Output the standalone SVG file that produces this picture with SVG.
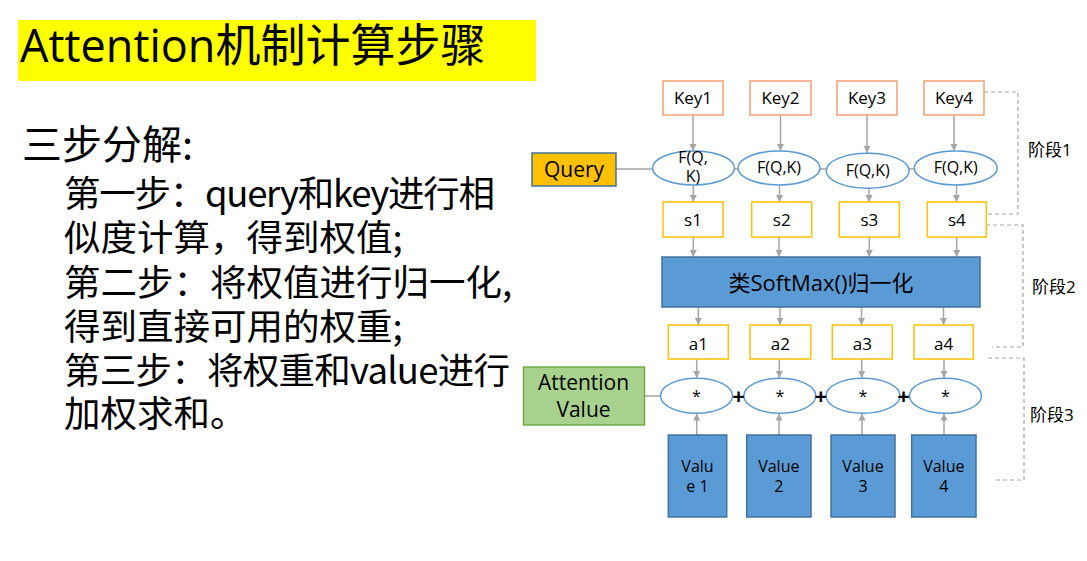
<svg xmlns="http://www.w3.org/2000/svg" width="1087" height="561" viewBox="0 0 1087 561">
<style>
.t{font-family:"Open Sans","Noto Sans CJK SC",sans-serif;fill:#000}
.c{font-family:"Noto Sans CJK SC","Open Sans",sans-serif;fill:#000}
.m{text-anchor:middle}
.key{fill:#fff;stroke:#f4a172;stroke-width:1.5}
.sa{fill:#fff;stroke:#ffc000;stroke-width:1.5}
.el{fill:#fff;stroke:#5b9bd5;stroke-width:1.5}
.blue{fill:#5b9bd5;stroke:#41719c;stroke-width:1.5}
.ln{stroke:#a5a5a5;stroke-width:1.5;fill:none}
.ar{stroke:#a5a5a5;stroke-width:1.5;fill:none;marker-end:url(#ah)}
.dash{stroke:#a5a5a5;stroke-width:1.2;fill:none;stroke-dasharray:4 3}
.f17{font-size:17px}
.f16{font-size:16px}
</style>
<defs>
<marker id="ah" markerUnits="userSpaceOnUse" markerWidth="8" markerHeight="8" refX="7" refY="4" orient="auto">
<path d="M0,0.5 L7,4 L0,7.5 z" fill="#a5a5a5"/>
</marker>
</defs>
<rect width="1087" height="561" fill="#fff"/>

<g id="title">
<rect x="18" y="20" width="518" height="61" fill="#ffff00"/>
<text class="t" x="20" y="62" font-size="45">Attention机制计算步骤</text>
</g>

<g id="body-text">
<text class="c" x="22" y="159" font-size="40">三步分解:</text>
<text class="c" x="64" y="207" font-size="36.5" textLength="431" lengthAdjust="spacing">第一步：query和key进行相</text>
<text class="c" x="64" y="251" font-size="36.5">似度计算，得到权值;</text>
<text class="c" x="64" y="296" font-size="36.5">第二步：将权值进行归一化,</text>
<text class="c" x="64" y="340" font-size="36.5">得到直接可用的权重;</text>
<text class="c" x="64" y="384" font-size="36.5" textLength="446" lengthAdjust="spacing">第三步：将权重和value进行</text>
<text class="c" x="64" y="427" font-size="36.5">加权求和。</text>
</g>

<g id="connectors">
<line class="ln" x1="616" y1="169" x2="914" y2="169"/>
<line class="ln" x1="644" y1="396" x2="661" y2="396"/>
<line class="ar" x1="693" y1="115" x2="693" y2="151"/>
<line class="ar" x1="780.5" y1="115" x2="780.5" y2="151"/>
<line class="ar" x1="867" y1="115" x2="867" y2="153"/>
<line class="ar" x1="954" y1="115" x2="954" y2="151"/>
<line class="ar" x1="693.3" y1="185" x2="693.3" y2="202"/>
<line class="ar" x1="779.5" y1="185" x2="779.5" y2="202"/>
<line class="ar" x1="869" y1="188" x2="869" y2="202"/>
<line class="ar" x1="956.5" y1="185" x2="956.5" y2="202"/>
<line class="ar" x1="693.3" y1="237" x2="693.3" y2="257"/>
<line class="ar" x1="779" y1="237" x2="779" y2="257"/>
<line class="ar" x1="869.3" y1="237" x2="869.3" y2="257"/>
<line class="ar" x1="956.7" y1="237" x2="956.7" y2="257"/>
<line class="ar" x1="698.3" y1="307" x2="698.3" y2="325"/>
<line class="ar" x1="780" y1="307" x2="780" y2="325"/>
<line class="ar" x1="861.5" y1="307" x2="861.5" y2="325"/>
<line class="ar" x1="943.5" y1="307" x2="943.5" y2="325"/>
<line class="ar" x1="696.7" y1="359" x2="696.7" y2="378"/>
<line class="ar" x1="779.3" y1="359" x2="779.3" y2="378"/>
<line class="ar" x1="861.7" y1="359" x2="861.7" y2="378"/>
<line class="ar" x1="944" y1="359" x2="944" y2="378"/>
<line class="ar" x1="696.7" y1="435" x2="696.7" y2="413.5"/>
<line class="ar" x1="779" y1="435" x2="779" y2="413.5"/>
<line class="ar" x1="862" y1="435" x2="862" y2="413.5"/>
<line class="ar" x1="944" y1="435" x2="944" y2="413.5"/>
<polyline class="dash" points="984,92 1018,92 1018,214 986,214"/>
<polyline class="dash" points="986,225 1023,225 1023,347 992,347"/>
<polyline class="dash" points="988,358 1024,358 1024,480 993,480"/>
</g>

<g id="query">
<rect x="532" y="153" width="84" height="33" fill="#ffc000" stroke="#41719c" stroke-width="1.5"/>
<text class="t m" x="574" y="177" font-size="21">Query</text>
</g>

<g id="key1"><rect class="key" x="663" y="81" width="60" height="34"/><text class="t m f17" x="693" y="104">Key1</text></g>
<g id="key2"><rect class="key" x="750" y="81" width="61" height="34"/><text class="t m f17" x="780.5" y="104">Key2</text></g>
<g id="key3"><rect class="key" x="837" y="81" width="60" height="34"/><text class="t m f17" x="867" y="104">Key3</text></g>
<g id="key4"><rect class="key" x="924" y="81" width="60" height="34"/><text class="t m f17" x="954" y="104">Key4</text></g>

<g id="f1"><ellipse class="el" cx="693.5" cy="168" rx="41" ry="17"/><text class="t m f16" x="693" y="163">F(Q,</text><text class="t m f16" x="693" y="182">K)</text></g>
<g id="f2"><ellipse class="el" cx="779" cy="168" rx="41" ry="17"/><text class="t m f16" x="779" y="173">F(Q,K)</text></g>
<g id="f3"><ellipse class="el" cx="867.7" cy="170.8" rx="41.5" ry="17.5"/><text class="t m f16" x="867.7" y="175.5">F(Q,K)</text></g>
<g id="f4"><ellipse class="el" cx="955.7" cy="168" rx="41.5" ry="17"/><text class="t m f16" x="955.7" y="173">F(Q,K)</text></g>

<g id="s1"><rect class="sa" x="663" y="202" width="60" height="35"/><text class="t m f17" x="693" y="225.5">s1</text></g>
<g id="s2"><rect class="sa" x="751.7" y="202" width="60" height="35"/><text class="t m f17" x="781.7" y="225.5">s2</text></g>
<g id="s3"><rect class="sa" x="839.3" y="202" width="60" height="35"/><text class="t m f17" x="869.3" y="225.5">s3</text></g>
<g id="s4"><rect class="sa" x="927.3" y="202" width="59" height="35"/><text class="t m f17" x="956.8" y="225.5">s4</text></g>

<g id="softmax">
<rect class="blue" x="662" y="257" width="318" height="50"/>
<text class="t m" x="821" y="290.5" font-size="22">类SoftMax()归一化</text>
</g>

<g id="a1"><rect class="sa" x="668.3" y="325" width="60" height="34"/><text class="t m f17" x="698.3" y="349.5">a1</text></g>
<g id="a2"><rect class="sa" x="750" y="325" width="60.7" height="34"/><text class="t m f17" x="780.3" y="349.5">a2</text></g>
<g id="a3"><rect class="sa" x="832.3" y="325" width="60" height="34"/><text class="t m f17" x="862.3" y="349.5">a3</text></g>
<g id="a4"><rect class="sa" x="914" y="325" width="59.3" height="34"/><text class="t m f17" x="943.7" y="349.5">a4</text></g>

<g id="attention-value">
<rect x="523.5" y="367" width="121" height="58" fill="#a9d18e" stroke="#70ad47" stroke-width="1.5"/>
<text class="t m" x="583.5" y="390" font-size="21">Attention</text>
<text class="t m" x="583.5" y="417" font-size="21">Value</text>
</g>

<g id="m1"><ellipse class="el" cx="696.5" cy="395.7" rx="36" ry="17.5"/><text class="t m f16" x="696.5" y="402">*</text></g>
<g id="m2"><ellipse class="el" cx="779.8" cy="395.7" rx="36" ry="17.5"/><text class="t m f16" x="779.8" y="402">*</text></g>
<g id="m3"><ellipse class="el" cx="863" cy="395.7" rx="37" ry="17.5"/><text class="t m f16" x="863" y="402">*</text></g>
<g id="m4"><ellipse class="el" cx="945.5" cy="395.7" rx="36" ry="17.5"/><text class="t m f16" x="945.5" y="402">*</text></g>

<g id="plus">
<text class="t m" x="738.5" y="404" font-size="22" font-weight="bold">+</text>
<text class="t m" x="820.7" y="404" font-size="22" font-weight="bold">+</text>
<text class="t m" x="903.5" y="404" font-size="22" font-weight="bold">+</text>
</g>

<g id="v1"><rect class="blue" x="668.3" y="435" width="58.4" height="82"/><text class="t m f16" x="697.5" y="472">Valu</text><text class="t m f16" x="697.5" y="492">e 1</text></g>
<g id="v2"><rect class="blue" x="746.7" y="435" width="64.3" height="82"/><text class="t m f16" x="778.8" y="472">Value</text><text class="t m f16" x="778.8" y="492">2</text></g>
<g id="v3"><rect class="blue" x="831" y="435" width="64" height="82"/><text class="t m f16" x="863" y="472">Value</text><text class="t m f16" x="863" y="492">3</text></g>
<g id="v4"><rect class="blue" x="911.7" y="435" width="64.3" height="82"/><text class="t m f16" x="943.8" y="472">Value</text><text class="t m f16" x="943.8" y="492">4</text></g>

<g id="stages">
<text class="t f17" x="1028" y="156">阶段1</text>
<text class="t f17" x="1032" y="293">阶段2</text>
<text class="t f17" x="1030" y="421">阶段3</text>
</g>
</svg>
